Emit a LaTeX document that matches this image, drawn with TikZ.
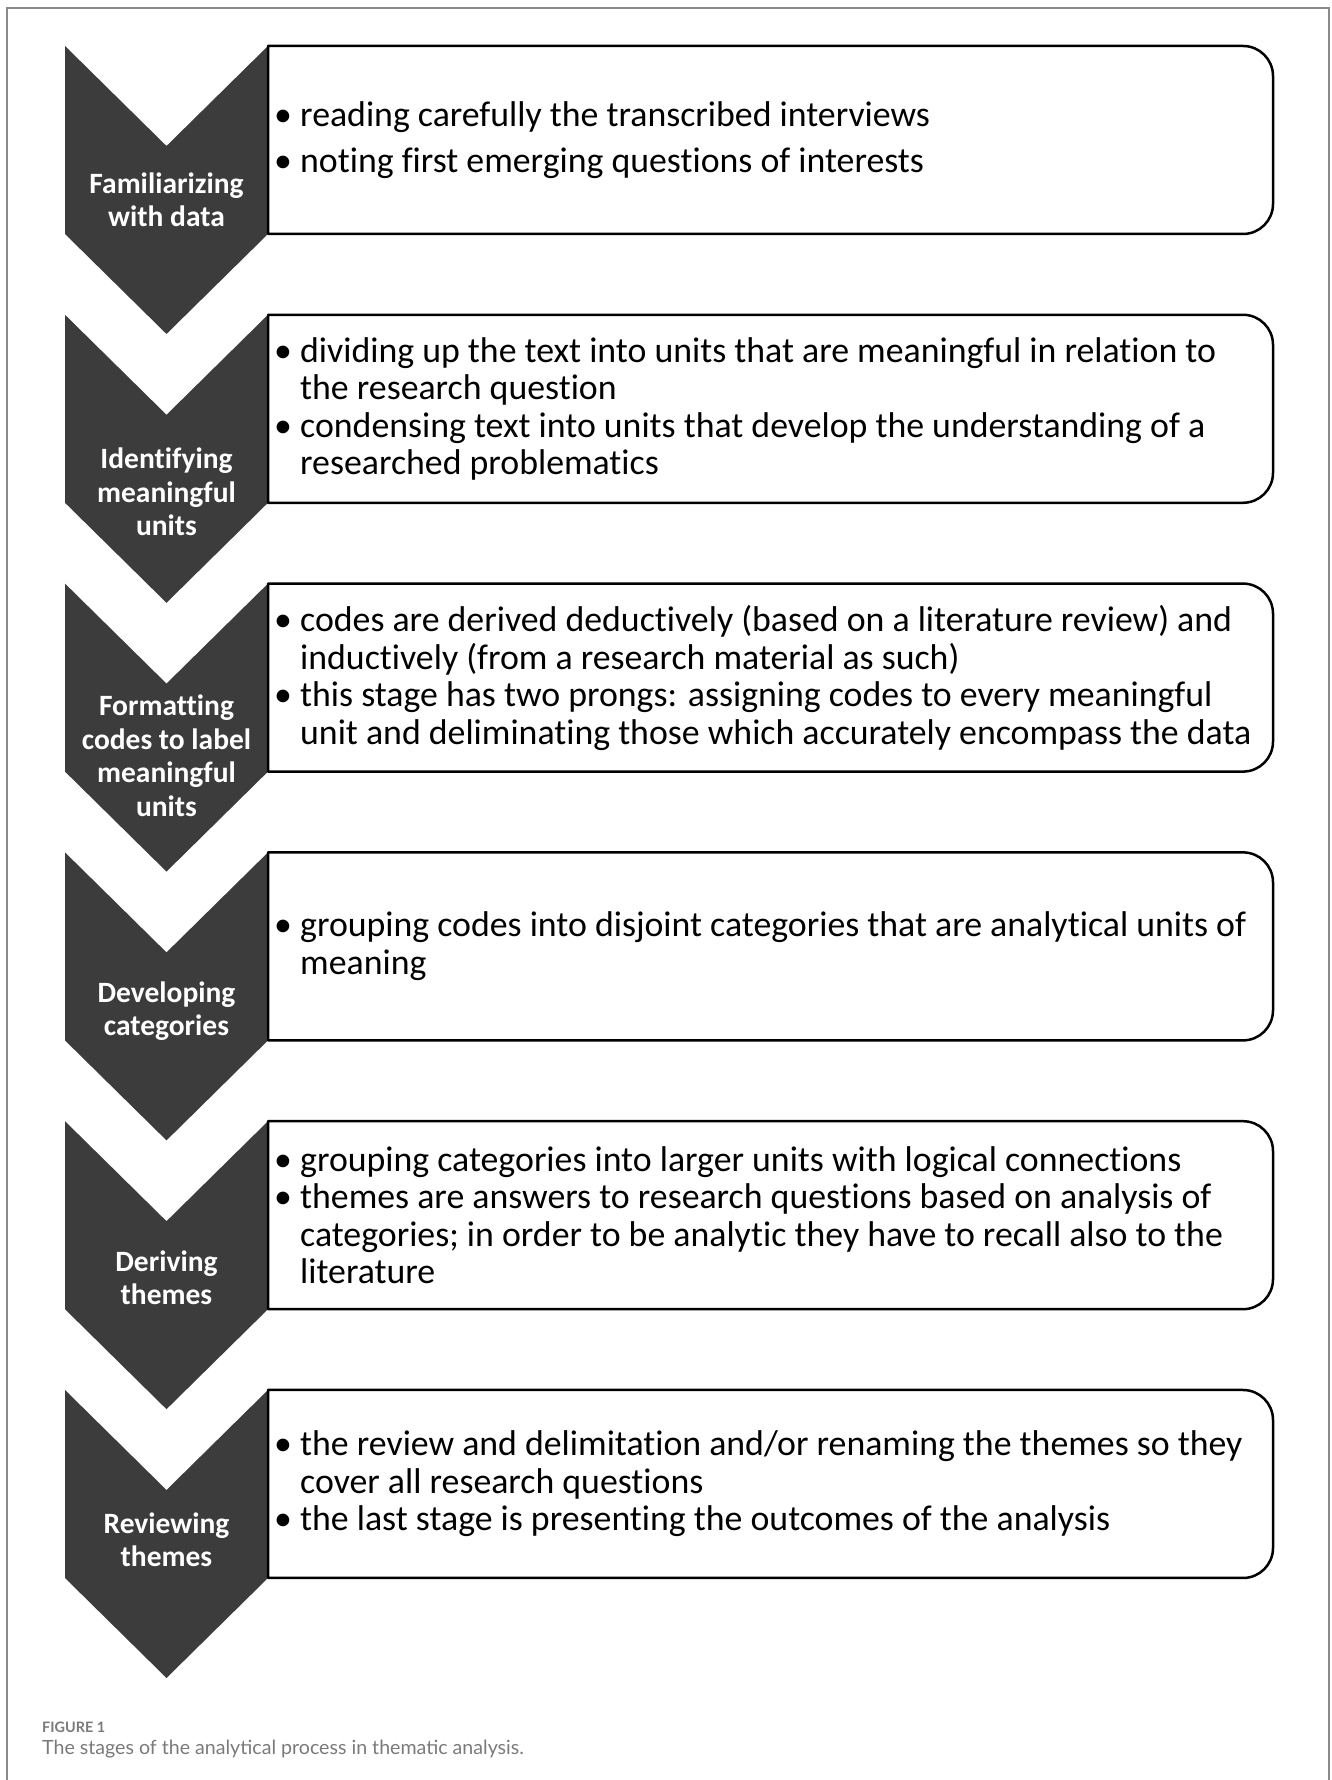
\documentclass[tikz,border=0pt]{standalone}
\usepackage{fontspec}
\setmainfont[Ligatures=NoCommon]{Carlito}
\newfontfamily\figcapfont{Lato}
\usetikzlibrary{positioning}
\definecolor{chevgray}{HTML}{3C3C3C}
\definecolor{framegray}{HTML}{8A8A8A}
\definecolor{capgray}{HTML}{7A7A7A}
\newcommand\itemmark{\makebox[26pt][l]{\textbullet}}
\newcommand\itemgap{\hspace*{26pt}}

\begin{document}
\begin{tikzpicture}[x=1pt, y=1pt,
  stagebox/.style={draw=black, line width=2.5pt, fill=white, line join=round},
  stagearrow/.style={fill=chevgray},
  stagetext/.style={anchor=west, align=left, inner sep=0pt, text=black,
    font=\fontsize{35.8}{37.5}\selectfont},
  stagelabel/.style={align=center, inner sep=0pt, text=white,
    font=\bfseries\fontsize{29.5}{33.5}\selectfont},
  capline/.style={anchor=base west, inner sep=0pt, text=capgray}]
\useasboundingbox (0,0) rectangle (1331,1780);
\draw [framegray, line width=1.5pt] (7,0) -- (7,1772) -- (1329,1772) -- (1329,0);
% chevrons and boxes, one per stage
\foreach \t in {1734,1465.2,1196.4,927.6,658.8,390} {
  \fill [stagearrow] (65,\t) -- (166.5,\t-100) -- (268,\t) -- (268,\t-188)
    -- (166.5,\t-288) -- (65,\t-188) -- cycle;
  \draw [stagebox] (268,\t) -- (1243,\t) arc[start angle=90, end angle=0, radius=30]
    -- (1273,\t-158) arc[start angle=0, end angle=-90, radius=30] -- (268,\t-188) -- cycle;
}
% stage names
\node [stagelabel] (fam) at (166.5,1580) {Familiarizing\\with data};
\node [stagelabel] (ident) at (166.5,1288) {Identifying\\meaningful\\units};
\node [stagelabel] (form) at (166.5,1024) {Formatting\\codes to label\\meaningful\\units};
\node [stagelabel] (dev) at (166.5,769) {Developing\\categories};
\node [stagelabel] (der) at (166.5,502) {Deriving\\themes};
\node [stagelabel] (rev) at (166.5,240) {Reviewing\\themes};
% what happens at each stage
\node [stagetext] (famtext) at (274,1640) {\itemmark reading carefully the transcribed interviews\\[9pt]
  \itemmark noting first emerging questions of interests};
\node [stagetext] (identtext) at (274,1371) {\itemmark dividing up the text into units that are meaningful in relation to\\
  \itemgap the research question\\
  \itemmark condensing text into units that develop the understanding of a\\
  \itemgap researched problematics};
\node [stagetext] (formtext) at (274,1102) {\itemmark codes are derived deductively (based on a literature review) and\\
  \itemgap inductively (from a research material as such)\\
  \itemmark this stage has two prongs: assigning codes to every meaningful\\
  \itemgap unit and deliminating those which accurately encompass the data};
\node [stagetext] (devtext) at (274,834) {\itemmark grouping codes into disjoint categories that are analytical units of\\
  \itemgap meaning};
\node [stagetext] (dertext) at (274,565) {\itemmark grouping categories into larger units with logical connections\\
  \itemmark themes are answers to research questions based on analysis of\\
  \itemgap categories; in order to be analytic they have to recall also to the\\
  \itemgap literature};
\node [stagetext] (revtext) at (274,296) {\itemmark the review and delimitation and/or renaming the themes so they\\
  \itemgap cover all research questions\\
  \itemmark the last stage is presenting the outcomes of the analysis};
% caption
\node [capline, font=\figcapfont\bfseries\fontsize{14.4}{16}\selectfont] (fignum) at (42,47) {FIGURE 1};
\node [capline, font=\figcapfont\fontsize{19.6}{22}\selectfont] (figcap) at (42,25) {The stages of the analytical process in thematic analysis.};
\end{tikzpicture}
\end{document}
